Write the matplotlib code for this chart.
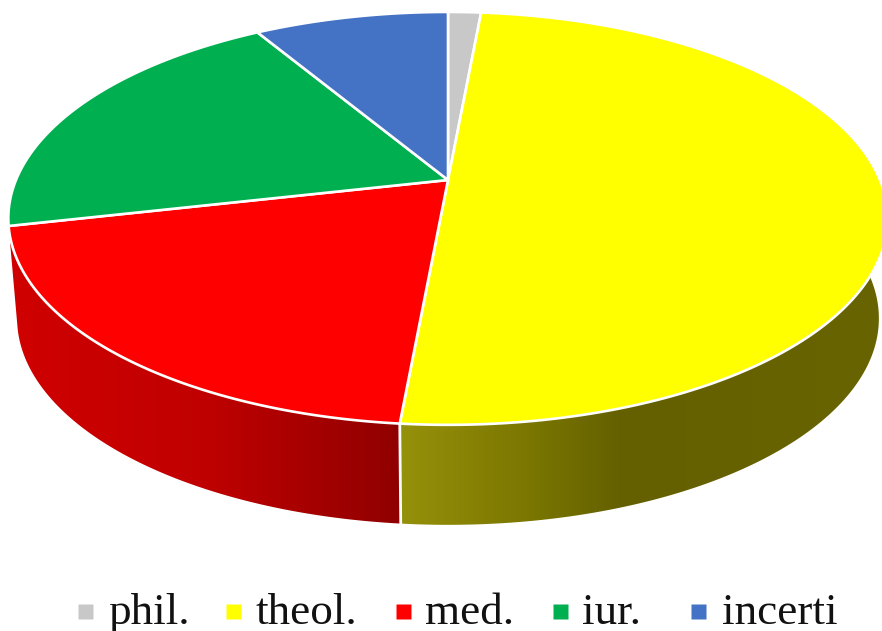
import numpy as np
import matplotlib
matplotlib.use("Agg")
import matplotlib.pyplot as plt
from matplotlib.colors import LinearSegmentedColormap
from matplotlib.patches import Polygon

# 데이터 (percent)
labels = ["phil.", "theol.", "med.", "iur.", "incerti"]
values = [1.45, 50.0, 20.0, 20.0, 8.55]
colors = ["#c8c8c8", "#ffff00", "#ff0000", "#00b050", "#4472c4"]

# perspective of the disc, in pixels of the picture
cx, cy = 448, 180
a, b, k = 432, 199.3, 0.186
depth = 100
low_scale = 0.98

# legend layout, in pixels
legend_marker_x = [84.5, 232.5, 402.5, 559.5, 698]
legend_text_x = [108, 255, 425, 582, 722]
legend_marker_y = 611
legend_baseline = 624


def rim(angle, drop=0.0, scale=1.0):
    # angle in degrees, clockwise from the top of the disc
    t = np.radians(angle)
    u, v = np.sin(t), np.cos(t)
    w = 1 + k * v
    return np.column_stack([cx + scale * a * u / w, cy + drop - b * v / w])


fig = plt.figure(figsize=(8.82, 6.31), dpi=100)
ax = fig.add_axes([0, 0, 1, 1])

edges = np.concatenate([[0], np.cumsum(values)]) / np.sum(values) * 360

# 옆면 (side walls with horizontal gradient)
sides = {
    1: [(0, "#96910a"), (0.29, "#787400"), (0.46, "#646000"), (1, "#686400")],
    2: [(0, "#d00000"), (0.5, "#c00000"), (0.75, "#a80000"), (1, "#900000")],
}
side_x = {1: (400, 882), 2: (8, 400)}
for i, grad in sides.items():
    ang = np.linspace(edges[i], edges[i + 1], 200)
    upper = rim(ang)
    lower = rim(ang, depth, low_scale)
    poly = Polygon(np.vstack([upper, lower[::-1]]), closed=True, fc="none", ec="none")
    ax.add_patch(poly)
    cmap = LinearSegmentedColormap.from_list("side", grad)
    im = ax.imshow(np.linspace(0, 1, 256)[None, :], cmap=cmap, aspect="auto",
                   extent=(side_x[i][0], side_x[i][1], 631, 0), zorder=1)
    im.set_clip_path(poly)

# white seam between the two walls
seam_top = rim(edges[2])[0]
seam_low = rim(edges[2], depth, low_scale)[0]
ax.plot([seam_top[0], seam_low[0]], [seam_top[1], seam_low[1]], color="white", lw=2, zorder=2)

# 윗면 (top slices)
for i in range(len(values)):
    ang = np.linspace(edges[i], edges[i + 1], 200)
    pts = np.vstack([[[cx, cy]], rim(ang)])
    ax.add_patch(Polygon(pts, closed=True, fc=colors[i], ec="white", lw=1.9, joinstyle="round", zorder=3))

# 범례
for i in range(len(labels)):
    ax.plot(legend_marker_x[i], legend_marker_y, ls="none", marker="s", ms=10.8, mfc=colors[i], mec="none")
    ax.text(legend_text_x[i], legend_baseline, labels[i], family="Liberation Serif", size=32.5,
            color="#111111", ha="left", va="baseline")

ax.set_xlim(0, 882)
ax.set_ylim(631, 0)
ax.axis("off")

fig.savefig("out.png", dpi=100)
